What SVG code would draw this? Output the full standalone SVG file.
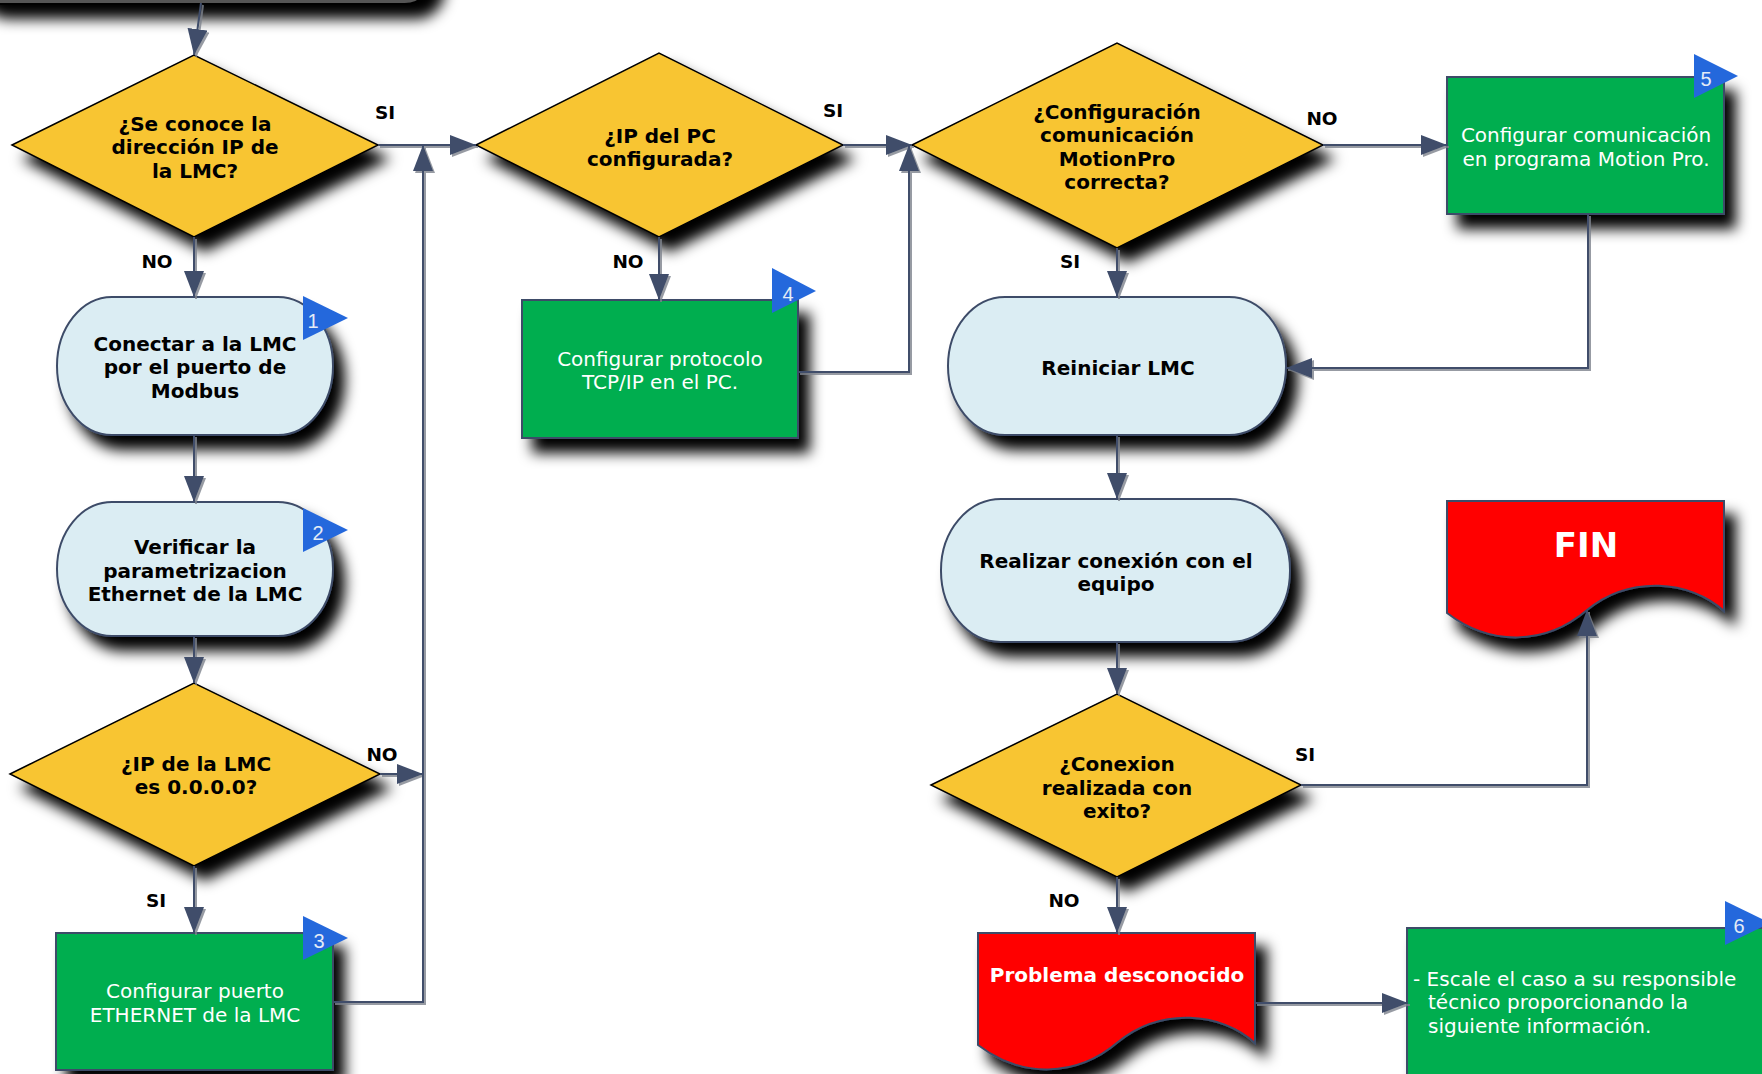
<svg xmlns="http://www.w3.org/2000/svg" width="1762" height="1074" viewBox="0 0 1762 1074">
<style>
.dia{fill:#F8C533;stroke:#000;stroke-width:1.5}
.term{fill:#DBEDF3;stroke:#3E4C68;stroke-width:2}
.grn{fill:#00AE50;stroke:#3E4C68;stroke-width:2}
.red{fill:#FF0000;stroke:#3E4C68;stroke-width:2}
.badge{fill:#2468DC}
.bn{font-family:"Liberation Sans",Arial,sans-serif;font-size:20px;fill:#E4ECF6;text-anchor:middle}
.tb{font-family:"DejaVu Sans",Verdana,sans-serif;font-weight:bold;font-size:20px;fill:#000;text-anchor:middle}
.tw{font-family:"DejaVu Sans",Verdana,sans-serif;font-size:20px;fill:#fff;text-anchor:middle}
.twb{font-family:"DejaVu Sans",Verdana,sans-serif;font-weight:bold;font-size:20px;fill:#fff;text-anchor:middle}
.lbl{font-family:"DejaVu Sans",Verdana,sans-serif;font-weight:bold;font-size:18.5px;fill:#000;text-anchor:middle}
.con path{fill:none;stroke:#3F4D6B;stroke-width:2;marker-end:url(#ah)}
</style>
<defs>
<filter id="sh" x="-15%" y="-15%" width="150%" height="165%">
<feGaussianBlur in="SourceAlpha" stdDeviation="7"/>
<feOffset dx="11" dy="14"/>
<feComponentTransfer><feFuncA type="linear" slope="1"/></feComponentTransfer>
<feMerge><feMergeNode/><feMergeNode in="SourceGraphic"/></feMerge>
</filter>
<filter id="lsh" x="-20%" y="-20%" width="140%" height="140%">
<feDropShadow dx="2" dy="2" stdDeviation="0.7" flood-color="#7d828c" flood-opacity="0.8"/>
</filter>
<marker id="ah" markerUnits="userSpaceOnUse" viewBox="0 0 26 20" markerWidth="26" markerHeight="20" refX="26" refY="10" orient="auto">
<path d="M0,0 L26,10 L0,20 Z" fill="#3F4D6B"/>
</marker>
</defs>
<rect width="1762" height="1074" fill="#fff"/>

<g id="n-top" filter="url(#sh)">
<rect x="-30" y="-70" width="463" height="74" rx="28" fill="#555" stroke="#000" stroke-width="2"/>
</g>

<g id="n-d1" filter="url(#sh)">
<polygon class="dia" points="12,145 194,55 378,145 194,237"/>
</g>
<g id="n-d1-t">
<text class="tb" x="195" y="131">¿Se conoce la</text>
<text class="tb" x="195" y="154">dirección IP de</text>
<text class="tb" x="195" y="178">la LMC?</text>
</g>

<g id="n-t1">
<rect class="term" x="57" y="297" width="276" height="138" rx="55" ry="69" filter="url(#sh)"/>
<text class="tb" x="195" y="351">Conectar a la LMC</text>
<text class="tb" x="195" y="374">por el puerto de</text>
<text class="tb" x="195" y="398">Modbus</text>
<polygon class="badge" points="303,296 348,318 303,340"/>
<text class="bn" x="313" y="328">1</text>
</g>

<g id="n-t2">
<rect class="term" x="57" y="502" width="276" height="134" rx="55" ry="67" filter="url(#sh)"/>
<text class="tb" x="195" y="554">Verificar la</text>
<text class="tb" x="195" y="578">parametrizacion</text>
<text class="tb" x="195" y="601">Ethernet de la LMC</text>
<polygon class="badge" points="303,508 348,530 303,552"/>
<text class="bn" x="318" y="540">2</text>
</g>

<g id="n-d3">
<polygon class="dia" points="10,774 194,683 380,774 194,866" filter="url(#sh)"/>
<text class="tb" x="196" y="771">¿IP de la LMC</text>
<text class="tb" x="196" y="794">es 0.0.0.0?</text>
</g>

<g id="n-b3">
<rect class="grn" x="56" y="933" width="277" height="137" filter="url(#sh)"/>
<text class="tw" x="195" y="998">Configurar puerto</text>
<text class="tw" x="195" y="1022">ETHERNET de la LMC</text>
<polygon class="badge" points="303,916 348,938 303,960"/>
<text class="bn" x="319" y="948">3</text>
</g>

<g id="n-d2">
<polygon class="dia" points="476,145 659,53 843,145 659,237" filter="url(#sh)"/>
<text class="tb" x="660" y="143">¿IP del PC</text>
<text class="tb" x="660" y="166">configurada?</text>
</g>

<g id="n-b4">
<rect class="grn" x="522" y="300" width="276" height="138" filter="url(#sh)"/>
<text class="tw" x="660" y="366">Configurar protocolo</text>
<text class="tw" x="660" y="389">TCP/IP en el PC.</text>
<polygon class="badge" points="772,268 816,291 772,313"/>
<text class="bn" x="788" y="301">4</text>
</g>

<g id="n-dc">
<polygon class="dia" points="912,145 1117,43 1323,145 1117,248" filter="url(#sh)"/>
<text class="tb" x="1117" y="119">¿Configuración</text>
<text class="tb" x="1117" y="142">comunicación</text>
<text class="tb" x="1117" y="166">MotionPro</text>
<text class="tb" x="1117" y="189">correcta?</text>
</g>

<g id="n-b5">
<rect class="grn" x="1447" y="77" width="277" height="137" filter="url(#sh)"/>
<text class="tw" x="1586" y="142">Configurar comunicación</text>
<text class="tw" x="1586" y="166">en programa Motion Pro.</text>
<polygon class="badge" points="1694,54 1738,76 1694,98"/>
<text class="bn" x="1706" y="86">5</text>
</g>

<g id="n-reiniciar">
<rect class="term" x="948" y="297" width="338" height="138" rx="57" ry="69" filter="url(#sh)"/>
<text class="tb" x="1118" y="375">Reiniciar LMC</text>
</g>

<g id="n-realizar">
<rect class="term" x="941" y="499" width="349" height="143" rx="60" ry="71" filter="url(#sh)"/>
<text class="tb" x="1116" y="568">Realizar conexión con el</text>
<text class="tb" x="1116" y="591">equipo</text>
</g>

<g id="n-d4">
<polygon class="dia" points="931,785 1117,694 1301,785 1117,877" filter="url(#sh)"/>
<text class="tb" x="1117" y="771">¿Conexion</text>
<text class="tb" x="1117" y="795">realizada con</text>
<text class="tb" x="1117" y="818">exito?</text>
</g>

<g id="n-fin">
<path class="red" d="M1447,501 H1724 V611 C1690,580 1630,575 1587,610 C1545,646 1490,646 1447,613 Z" filter="url(#sh)"/>
<text class="twb" x="1586" y="557" style="font-size:34px">FIN</text>
</g>

<g id="n-problema">
<path class="red" transform="translate(-469,432)" d="M1447,501 H1724 V611 C1690,580 1630,575 1587,610 C1545,646 1490,646 1447,613 Z" filter="url(#sh)"/>
<text class="twb" x="1117" y="982">Problema desconocido</text>
</g>

<g id="n-b6">
<rect class="grn" x="1407" y="928" width="380" height="170" filter="url(#sh)"/>
<text class="tw" x="1413" y="986" style="text-anchor:start">- Escale el caso a su responsible</text>
<text class="tw" x="1428" y="1009" style="text-anchor:start">técnico proporcionando la</text>
<text class="tw" x="1428" y="1033" style="text-anchor:start">siguiente información.</text>
<polygon class="badge" points="1725,901 1770,923 1725,945"/>
<text class="bn" x="1739" y="933">6</text>
</g>

<g id="connectors" class="con" filter="url(#lsh)">
<path d="M201,3 L194,55"/>
<path d="M378,145 H476"/>
<path d="M333,1002 H423 V145"/>
<path d="M380,774 H423"/>
<path d="M194,237 V297"/>
<path d="M194,435 V502"/>
<path d="M194,636 V683"/>
<path d="M194,866 V933"/>
<path d="M843,145 H912"/>
<path d="M798,372 H909 V145"/>
<path d="M659,237 V300"/>
<path d="M1323,145 H1447"/>
<path d="M1117,248 V297"/>
<path d="M1588,214 V368 H1286"/>
<path d="M1117,435 V499"/>
<path d="M1117,642 V694"/>
<path d="M1301,785 H1587 V610"/>
<path d="M1117,877 V933"/>
<path d="M1255,1003 H1408"/>
</g>

<g id="labels">
<text class="lbl" x="385" y="119">SI</text>
<text class="lbl" x="157" y="268">NO</text>
<text class="lbl" x="382" y="761">NO</text>
<text class="lbl" x="156" y="907">SI</text>
<text class="lbl" x="833" y="117">SI</text>
<text class="lbl" x="628" y="268">NO</text>
<text class="lbl" x="1322" y="125">NO</text>
<text class="lbl" x="1070" y="268">SI</text>
<text class="lbl" x="1305" y="761">SI</text>
<text class="lbl" x="1064" y="907">NO</text>
</g>
</svg>
